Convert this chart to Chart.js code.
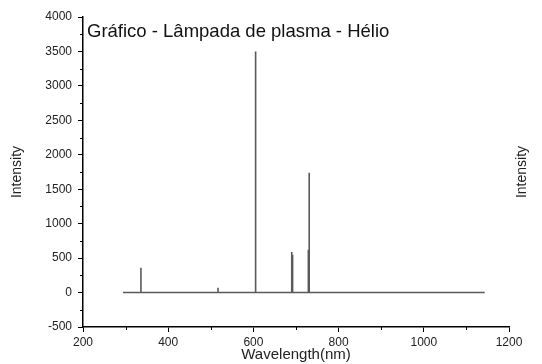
<!DOCTYPE html>
<html>
<head>
<meta charset="utf-8">
<script src="https://cdn.jsdelivr.net/npm/chart.js@4"></script>
<style>
html,body{margin:0;padding:0;background:#fff;}
canvas{display:block;}
</style>
</head>
<body>
<canvas id="c" width="542" height="364"></canvas>
<script>
// Data
const chartTitle = 'Gráfico - Lâmpada de plasma - Hélio';
const xTitle = 'Wavelength(nm)';
const yTitle = 'Intensity';
const rangeStart = 294;          // nm, start of recorded spectrum
const rangeEnd = 1143;           // nm, end of recorded spectrum
const peakWavelengths = [336, 517, 604, 606, 690, 692, 729, 731];
const peakIntensities = [360, 70, 2550, 3500, 590, 550, 620, 1740];
const xTicks = [200, 400, 600, 800, 1000, 1200];
const yTicks = [-500, 0, 500, 1000, 1500, 2000, 2500, 3000, 3500, 4000];
const xMinorTicks = [300, 500, 700, 900, 1100];
const yMinorTicks = [-250, 250, 750, 1250, 1750, 2250, 2750, 3250, 3750];

// Build line points: baseline with vertical spikes
const points = [{x: rangeStart, y: 0}];
peakWavelengths.forEach((w, i) => {
  points.push({x: w, y: 0});
  points.push({x: w, y: peakIntensities[i]});
  points.push({x: w, y: 0});
});
points.push({x: rangeEnd, y: 0});

const FONT = '"Liberation Sans", Arial, sans-serif';

const extras = {
  id: 'extras',
  afterDraw(chart) {
    const ctx = chart.ctx;
    const xs = chart.scales.x, ys = chart.scales.y;
    ctx.save();
    ctx.strokeStyle = '#000';
    ctx.lineWidth = 1;
    ctx.beginPath();
    yMinorTicks.forEach(v => {
      const py = Math.round(ys.getPixelForValue(v)) + 0.5;
      ctx.moveTo(xs.left - 3, py); ctx.lineTo(xs.left, py);
    });
    xMinorTicks.forEach(v => {
      const px = Math.round(xs.getPixelForValue(v)) + 0.5;
      ctx.moveTo(px, ys.bottom); ctx.lineTo(px, ys.bottom + 3);
    });
    ctx.stroke();
    // Chart title inside plot
    ctx.fillStyle = '#111';
    ctx.font = '18.5px ' + FONT;
    ctx.textBaseline = 'alphabetic';
    ctx.textAlign = 'left';
    ctx.fillText(chartTitle, xs.left + 4, 37);
    // Right side axis title
    ctx.translate(522, (ys.top + ys.bottom) / 2);
    ctx.rotate(-Math.PI / 2);
    ctx.textAlign = 'center';
    ctx.textBaseline = 'middle';
    ctx.font = '14px ' + FONT;
    ctx.fillStyle = '#222';
    ctx.fillText(yTitle, 0, 0);
    ctx.restore();
  }
};

new Chart(document.getElementById('c'), {
  type: 'line',
  data: {
    datasets: [{
      data: points,
      borderColor: '#5a5a5a',
      borderWidth: 1.6,
      pointRadius: 0,
      tension: 0,
      fill: false
    }]
  },
  options: {
    responsive: false,
    animation: false,
    devicePixelRatio: 1,
    layout: {padding: {top: 17, right: 33, left: 0, bottom: 0}},
    plugins: {legend: {display: false}, tooltip: {enabled: false}},
    scales: {
      x: {
        type: 'linear',
        min: 200, max: 1200,
        afterBuildTicks: s => { s.ticks = xTicks.map(v => ({value: v})); },
        afterFit: s => { s.height = 37; },
        grid: {drawOnChartArea: false, drawTicks: true, tickLength: 5, color: '#000'},
        border: {display: true, color: '#000', width: 1.5},
        ticks: {font: {size: 12, family: FONT}, color: '#222', padding: 3, maxRotation: 0, callback: v => String(v)},
        title: {display: true, text: xTitle, font: {size: 15, family: FONT}, color: '#222', padding: {top: 0, bottom: 0}}
      },
      y: {
        type: 'linear',
        min: -500, max: 4000,
        afterBuildTicks: s => { s.ticks = yTicks.map(v => ({value: v})); },
        afterFit: s => { s.width = 83; },
        grid: {drawOnChartArea: false, drawTicks: true, tickLength: 5, color: '#000'},
        border: {display: true, color: '#000', width: 1.5},
        ticks: {font: {size: 12, family: FONT}, color: '#222', padding: 6, callback: v => String(v)},
        title: {display: true, text: yTitle, font: {size: 14, family: FONT}, color: '#222', padding: {top: 9, bottom: 0}}
      }
    }
  },
  plugins: [extras]
});
</script>
</body>
</html>
